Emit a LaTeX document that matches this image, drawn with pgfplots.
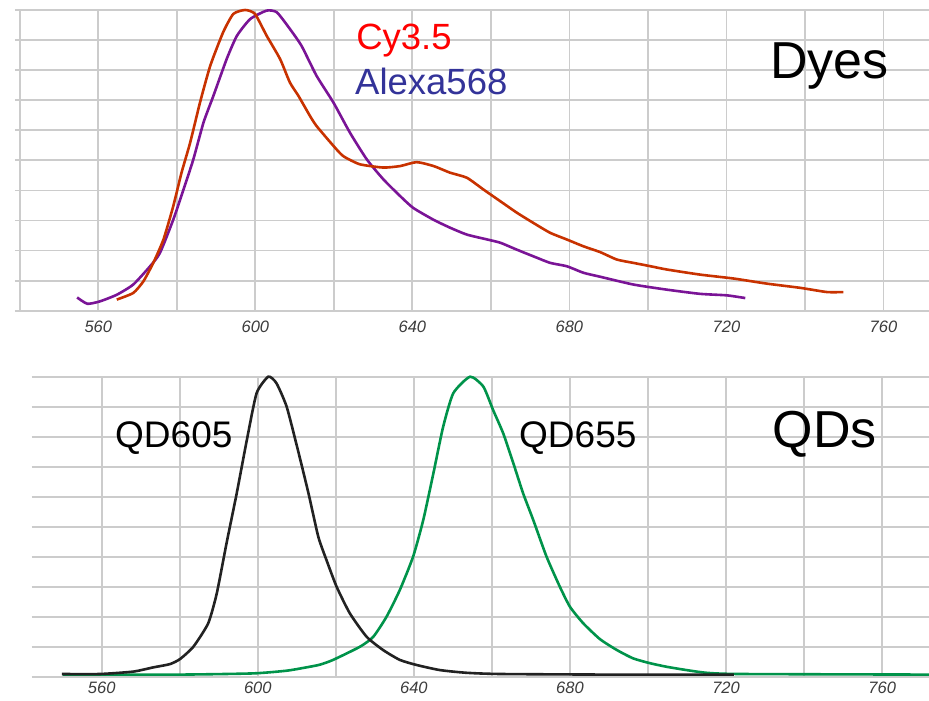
\documentclass[border=0pt]{standalone}
\usepackage{pgfplots}
\pgfplotsset{compat=1.18}
\usepackage{fontspec}
\setmainfont{Liberation Sans}
\setsansfont{Liberation Sans}
\definecolor{gridc}{RGB}{204,204,204}
\definecolor{cyred}{RGB}{200,50,0}
\definecolor{alexap}{RGB}{122,20,150}
\definecolor{qdgreen}{RGB}{0,147,74}
\definecolor{qdblack}{RGB}{34,34,34}
\definecolor{labred}{RGB}{255,0,0}
\definecolor{labblue}{RGB}{51,51,153}
\definecolor{tickc}{RGB}{60,60,60}
\pgfplotsset{
  spec/.style={
    scale only axis,
    anchor=south west,
    ymin=0, ymax=10,
    ytick={0,1,...,10},
    yticklabels={},
    xtick={560,600,...,760},
    minor xtick={540,580,...,740},
    grid=both,
    major grid style={gridc, line width=1.8pt},
    minor grid style={gridc, line width=1.8pt},
    axis line style={draw=none},
    xtick style={draw=none},
    minor tick style={draw=none},
    /pgf/number format/assume math mode=true,
    /pgf/number format/1000 sep={},
    xticklabel style={font=\fontsize{16.5}{17}\selectfont\itshape, text=tickc},
    clip=false,
  },
  curve/.style={line width=2.6pt, smooth, tension=0.35},
}
\begin{document}
\begin{tikzpicture}[x=1pt,y=1pt]
\useasboundingbox (0,0) rectangle (929,701);
% ---------- Top: Dyes ----------
\begin{axis}[spec,
  at={(19.8pt,390.3pt)}, width=909.2pt, height=300.7pt,
  xmin=540, xmax=771.6,
  ytick style={gridc, line width=1.8pt},
  major tick length=5pt, tick align=outside, ytick pos=left,
  xticklabel style={yshift=-2pt},
]
\addplot[alexap, curve] coordinates {
(554.6,0.44) (557.2,0.23) (560.4,0.31) (564.7,0.53) (568.9,0.87) (573.2,1.48)
(575.7,1.92) (579.1,3.03) (581.7,4.03) (584.2,5.03) (586.8,6.26) (589.3,7.14)
(592.7,8.37) (595.3,9.14) (598.7,9.70) (602.9,9.98) (605.5,9.92) (608.8,9.37)
(611.8,8.80) (615.6,7.81) (619.9,6.92) (624.1,5.92) (628.4,5.03) (632.6,4.37)
(636.9,3.81) (640.2,3.42) (645.3,3.03) (649.6,2.76) (653.9,2.53) (659.0,2.37)
(662.4,2.26) (666.6,2.03) (670.8,1.81) (675.1,1.59) (679.3,1.48) (683.6,1.26)
(687.8,1.13) (696.3,0.87) (704.8,0.70) (713.3,0.56) (720.1,0.51) (724.8,0.42)
};
\addplot[cyred, curve] coordinates {
(564.7,0.37) (568.9,0.59) (571.5,0.98) (574.0,1.59) (576.6,2.37) (579.1,3.48)
(581.2,4.59) (583.4,5.59) (585.9,6.92) (588.5,8.14) (591.8,9.26) (594.4,9.87)
(597.4,10.0) (599.9,9.87) (602.9,9.14) (606.3,8.37) (608.8,7.59) (611.0,7.14)
(613.9,6.48) (615.6,6.14) (619.9,5.48) (622.4,5.14) (626.6,4.87) (632.6,4.76)
(636.9,4.81) (641.1,4.94) (645.4,4.81) (649.6,4.59) (653.9,4.42) (658.1,4.03)
(662.4,3.64) (666.6,3.26) (670.8,2.92) (675.1,2.59) (679.3,2.37) (683.6,2.14)
(687.8,1.95) (692.1,1.70) (696.3,1.59) (700.6,1.48) (704.8,1.37) (713.3,1.20)
(721.8,1.07) (730.3,0.90) (738.8,0.76) (745.6,0.62) (749.8,0.62)
};
\end{axis}
\node[anchor=base, text=labred, font=\fontsize{36.5}{40}\selectfont, inner sep=0pt] at (404,651) {Cy3.5};
\node[anchor=base west, text=labblue, font=\fontsize{36.5}{40}\selectfont, inner sep=0pt] at (355,606) {Alexa568};
\node[anchor=base west, font=\fontsize{52}{56}\selectfont, inner sep=0pt] at (770,622) {Dyes};
% ---------- Bottom: QDs ----------
\begin{axis}[spec,
  at={(31.7pt,24.3pt)}, width=897.3pt, height=300pt,
  xmin=542.07, xmax=772,
  ytick style={draw=none},
  xticklabel style={yshift=-2pt},
]
\addplot[qdgreen, curve] coordinates {
(550,0.07) (580,0.07) (598.8,0.11) (607.4,0.20) (612,0.30) (615.9,0.40) (619.3,0.56)
(626.2,1.00) (629.6,1.33) (633.0,2.00) (636.4,2.89) (639.8,4.00) (642.4,5.22)
(645.0,6.78) (647.5,8.33) (650.1,9.45) (654.4,10.0) (657.8,9.67) (660.3,8.89)
(662.9,8.11) (665.5,7.11) (668.0,6.11) (670.6,5.22) (674.0,4.00) (677.4,3.00)
(680.0,2.33) (683.4,1.78) (687.7,1.25) (692.0,0.89) (696.2,0.61) (700.5,0.45)
(704.8,0.33) (709.9,0.22) (715.0,0.13) (723.5,0.09) (772,0.07)
};
\addplot[qdblack, curve] coordinates {
(549.8,0.09) (559.6,0.09) (568.1,0.17) (573.2,0.31) (577.5,0.42) (580.1,0.59)
(583.5,1.00) (587.3,1.78) (589.5,2.78) (592.0,4.45) (594.6,6.11) (597.2,7.89)
(599.7,9.45) (602.7,10.0) (604.8,9.78) (607.4,9.00) (610.2,7.60) (613.0,6.11)
(615.5,4.67) (617.6,3.89) (620.2,3.00) (623.6,2.11) (627.9,1.33) (632.1,0.89)
(636.4,0.56) (640.7,0.39) (646.7,0.22) (653.5,0.13) (662.1,0.09) (690,0.07) (722,0.07)
};
\end{axis}
\node[anchor=base west, font=\fontsize{37}{40}\selectfont, inner sep=0pt] at (115,253.3) {QD605};
\node[anchor=base west, font=\fontsize{37}{40}\selectfont, inner sep=0pt] at (519,253.3) {QD655};
\node[anchor=base west, font=\fontsize{52}{56}\selectfont, inner sep=0pt] at (772.7,253.3) {QDs};
\end{tikzpicture}
\end{document}
